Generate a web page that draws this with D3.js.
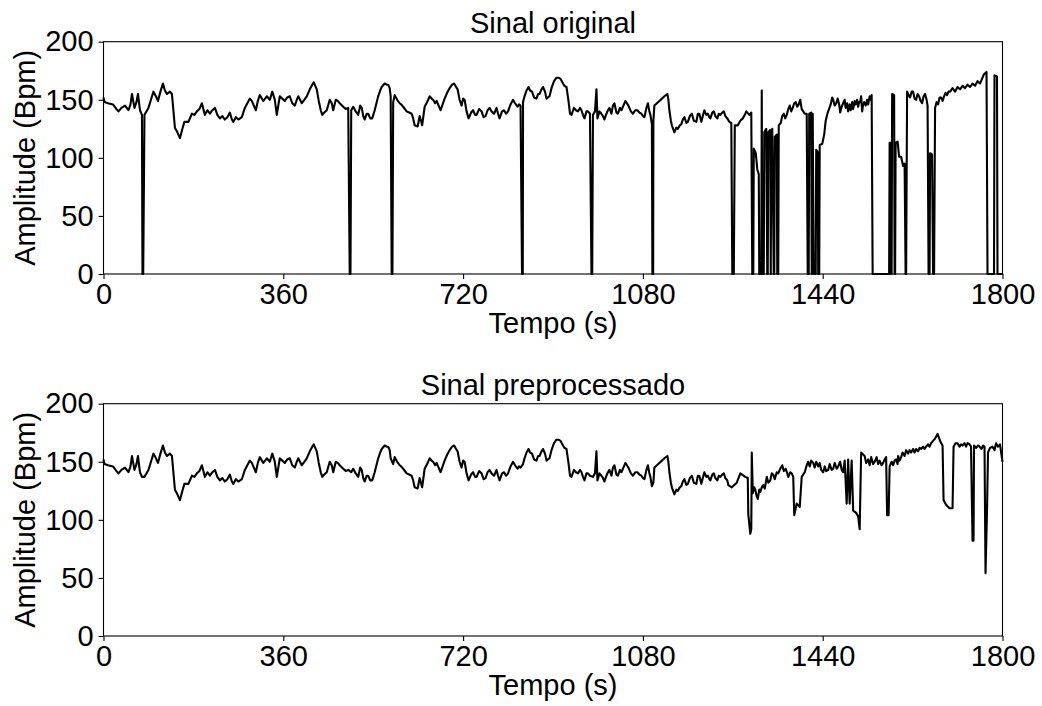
<!DOCTYPE html>
<html><head><meta charset="utf-8">
<script src="https://cdn.jsdelivr.net/npm/d3@7"></script>
<style>
body{margin:0;background:#fff}
text{font-family:"Liberation Sans",Arial,Helvetica,sans-serif;fill:#000}
</style>
</head><body>
<svg id="chart" width="1042" height="706"></svg>
<script>
// ---- data (time in s, amplitude in Bpm) ----
const xTicks = [0, 360, 720, 1080, 1440, 1800];
const yTicks = [0, 50, 100, 150, 200];
const titles = ["Sinal original", "Sinal preprocessado"];
const xLabel = "Tempo (s)";
const yLabel = "Amplitude (Bpm)";

// shared part of the heart-rate signal (0 .. ~1250 s)
const baseSignal = [
[0,152],[2,148],[9,147],[19,146],[26,142],[30,140],[36,143],[43,145],[50,141],[54,146],[57,155],[62,143],[66,148],[69,155],[73,141],[77,137],[82,137],[90,143],[95,150],[100,157],[105,153],[109,149],[114,157],[119,164],[123,158],[127,155],[133,157],[137,155],[143,126],[148,122],[153,117],[158,125],[162,131],[170,131],[177,138],[182,137],[187,140],[192,142],[197,147],[203,137],[208,141],[213,138],[218,141],[223,143],[228,137],[233,134],[238,136],[243,133],[248,135],[253,139],[257,133],[260,131],[265,135],[270,133],[277,135],[283,143],[288,147],[293,151],
[297,149],[305,141],[309,149],[313,154],[320,149],[327,153],[333,150],[338,157],[343,150],[347,137],[353,153],[358,151],[363,149],[368,152],[373,153],[378,147],[383,145],[387,150],[390,153],[397,147],[402,150],[407,153],[413,159],[418,163],[421,165],[424,162],[427,159],[431,149],[435,141],[438,137],[442,139],[447,141],[453,150],[457,147],[460,141],[465,150],[469,149],[473,147],[480,144],[485,142],[490,143],[496,141],[500,144],[505,140],[510,137],[514,145],[517,143],[520,136],[523,133],[527,138],[530,138],[534,134],[538,134],[543,141],[550,153],[554,158],[557,161],[563,164],[567,163],[570,163],[573,160],[575,153],[580,148],[583,154],[588,150],[593,147],
[596,146],[600,144],[607,140],[612,139],[617,138],[620,134],[623,128],[629,127],[633,136],[638,128],[643,144],[648,148],[653,153],[657,151],[660,150],[664,147],[667,149],[671,145],[675,141],[679,146],[683,151],[688,156],[693,160],[698,163],[702,164],[706,161],[709,159],[713,150],[717,145],[720,151],[723,150],[727,140],[731,134],[736,139],[740,141],[744,137],[747,137],[752,142],[757,140],[761,135],[765,136],[769,141],[773,143],[777,140],[782,138],[787,143],[790,138],[793,134],[798,140],[802,141],[806,138],[810,140],[815,146],[820,150],[824,147],[829,144],[832,146],[835,145],[840,148],[843,153],[847,158],[851,161],[854,158],[858,157],[862,152],[867,151],[870,155],[873,155],[877,159],[880,161],[884,157],[887,151],[893,153],
[897,160],[902,166],[907,169],[911,169],[915,168],[920,164],[923,162],[927,161],[929,155],[931,149],[934,138],[937,137],[942,143],[946,141],[950,140],[954,143],[957,141],[960,137],[963,134],[967,140],[970,140],[974,138],[980,137],[984,140],[987,159],[989,134],[993,140],[997,138],[1000,136],[1003,133],[1007,138],[1010,141],[1013,143],[1017,138],[1020,145],[1023,147],[1027,139],[1030,138],[1034,143],[1037,141],[1041,145],[1045,149],[1048,147],[1051,145],[1056,140],[1060,138],[1065,141],[1069,141],[1073,139],[1077,138],[1080,136],[1083,135],[1087,143],[1090,147],[1093,140],[1095,137],[1098,129],[1101,132],[1103,145],[1108,147],[1113,149],[1118,151],[1123,153],[1129,155],[1131,150],[1133,141],[1136,132],[1138,128],[1143,122],[1147,126],[1150,125],[1154,128],[1157,129],[1160,133],[1163,135],[1167,130],[1170,131],[1174,136],[1178,138],[1182,132],[1187,131],[1190,138],[1193,138],
[1197,131],[1200,136],[1203,141],[1207,137],[1210,138],[1213,135],[1215,134],[1219,139],[1222,140],[1225,136],[1229,134],[1232,138],[1235,137],[1239,139],[1242,140],[1245,136],[1249,134]
];

// instants where the original signal drops to zero (shared part)
const dropoutTimes = [78, 493, 577, 838, 977, 1099];

// end of the original signal
const originalTail = [
[1253,131],[1257,130],[1259,0],[1262,0],[1264,128],[1270,128],[1275,132],[1280,134],[1284,137],[1287,140],[1293,137],[1297,139],[1299,0],[1301,0],[1302,108],[1306,104],[1309,90],[1312,86],[1313,0],[1317,0],[1318,158],[1319,0],[1322,0],[1323,122],[1327,125],[1329,0],[1330,0],[1331,122],[1335,124],[1336,0],[1337,120],[1339,125],[1342,0],[1343,0],[1344,118],[1348,120],[1349,0],[1351,0],
[1352,128],[1356,130],[1359,136],[1362,138],[1365,134],[1368,137],[1371,142],[1374,145],[1377,140],[1380,143],[1383,147],[1386,148],[1389,144],[1392,146],[1395,150],[1398,142],[1401,140],[1404,138],[1408,138],[1410,0],[1412,0],[1413,138],[1417,139],[1418,0],[1420,138],[1422,0],[1426,0],[1427,107],[1430,105],[1431,0],[1433,0],[1434,111],[1439,112],[1443,120],[1446,132],[1450,139],
[1456,146],[1459,152],[1461,150],[1464,145],[1467,147],[1470,151],[1473,146],[1475,139],[1478,144],[1481,147],[1484,150],[1486,143],[1489,147],[1491,140],[1494,146],[1496,141],[1499,148],[1501,142],[1504,149],[1506,146],[1509,150],[1511,144],[1513,148],[1515,148],[1517,153],[1519,140],[1521,146],[1523,148],[1526,145],[1529,150],[1531,146],[1534,153],[1536,150],[1538,154],[1540,0],[1573,0],
[1574,113],[1576,113],[1577,0],[1578,0],[1579,155],[1583,154],[1584,0],[1585,0],[1586,113],[1590,114],[1593,101],[1597,101],[1601,93],[1604,95],[1606,0],[1607,0],
[1609,157],[1612,154],[1615,152],[1618,157],[1621,157],[1624,151],[1627,150],[1630,155],[1633,153],[1636,149],[1639,147],[1642,153],[1645,155],[1648,150],[1650,145],[1652,0],[1654,0],[1655,104],[1659,103],[1661,0],[1663,0],
[1665,143],[1668,148],[1671,146],[1674,152],[1677,152],[1680,149],[1683,153],[1686,156],[1689,154],[1692,157],[1695,157],[1700,160],[1705,157],[1710,161],[1715,159],[1720,162],[1725,160],[1730,163],[1735,161],[1740,164],[1745,162],[1750,166],[1755,164],[1760,169],[1763,172],[1768,174],[1770,0],[1783,0],[1784,171],[1789,170],[1790,0],[1800,0]
];

// end of the preprocessed signal
const preprocessedTail = [
[1251,130],[1258,128],[1268,132],[1275,140],[1285,137],[1290,136],[1291,105],[1295,88],[1297,92],[1298,158],
[1300,123],[1303,128],[1305,126],[1308,120],[1310,118],[1313,126],[1315,124],[1318,128],[1321,130],[1324,127],[1328,137],[1331,132],[1335,134],[1338,140],[1341,139],[1344,135],[1348,141],[1351,140],[1355,144],[1359,147],[1362,142],[1366,144],[1369,140],[1371,137],[1375,141],[1378,140],[1381,137],[1383,104],[1388,114],[1394,111],[1398,137],
[1404,141],[1408,147],[1411,150],[1414,146],[1417,151],[1421,149],[1424,145],[1427,150],[1431,146],[1434,149],[1437,143],[1441,141],[1444,146],[1447,142],[1451,143],[1454,148],[1458,143],[1461,144],[1464,149],[1468,144],[1471,146],[1475,150],[1478,143],[1481,141],[1484,151],[1488,114],[1491,152],[1494,114],[1498,151],[1501,108],[1507,106],[1511,103],[1514,92],[1517,158],
[1524,155],[1527,149],[1531,152],[1534,147],[1537,154],[1541,148],[1544,150],[1548,154],[1551,148],[1554,151],[1558,147],[1561,149],[1564,152],[1567,154],[1569,104],[1572,104],
[1574,146],[1578,150],[1581,147],[1584,151],[1587,152],[1590,148],[1591,155],[1594,151],[1597,154],[1600,158],[1604,155],[1607,160],[1611,157],[1614,160],[1617,158],[1621,161],[1624,158],[1627,161],[1631,159],[1634,162],[1637,161],[1641,163],[1644,161],[1647,163],[1651,165],[1654,163],[1657,166],[1661,168],[1665,170],[1670,174],[1676,167],[1680,164],[1682,117],[1687,113],[1694,110],[1700,110],
[1702,163],[1706,166],[1710,166],[1714,163],[1717,165],[1720,164],[1724,166],[1727,163],[1730,166],[1734,165],[1737,163],[1740,82],[1742,82],[1743,164],[1747,162],[1751,164],[1754,163],[1758,161],[1761,164],[1764,163],[1766,54],[1769,108],[1771,158],[1775,162],[1780,163],[1784,160],[1787,166],[1791,163],[1795,165],[1800,150]
];

// ---- assemble the two series ----
const dropoutPoints = dropoutTimes.flatMap(t => [[t, 0], [t + 1.5, 0]]);
const originalSignal = baseSignal.concat(dropoutPoints, originalTail).sort((a, b) => a[0] - b[0]);
const preprocessedSignal = baseSignal.concat(preprocessedTail).sort((a, b) => a[0] - b[0]);

// ---- drawing ----
const svg = d3.select("#chart");
const FS = 29;
const left = 103.5, right = 1002.5;
const panels = [
  {title: titles[0], top: 41.7, bottom: 274, data: originalSignal},
  {title: titles[1], top: 403.7, bottom: 636, data: preprocessedSignal}
];

panels.forEach(p => {
  const x = d3.scaleLinear().domain([0, 1800]).range([left, right]);
  const y = d3.scaleLinear().domain([0, 200]).range([p.bottom, p.top]);
  const g = svg.append("g");

  // line
  const line = d3.line().x(d => x(d[0])).y(d => y(d[1]));
  g.append("path").datum(p.data)
    .attr("d", line).attr("fill", "none").attr("stroke", "#000")
    .attr("stroke-width", 2.1).attr("stroke-linejoin", "round").attr("stroke-linecap", "butt");

  // x axis
  const xa = g.append("g").attr("transform", `translate(0,${p.bottom})`)
    .call(d3.axisBottom(x).tickValues(xTicks).tickFormat(d3.format("d")).tickSize(4.9).tickPadding(5).tickSizeOuter(0));
  xa.select(".domain").remove();
  xa.selectAll("line").attr("stroke", "#000").attr("stroke-width", 1.1);
  xa.selectAll("text").attr("font-size", FS).attr("font-family", '"Liberation Sans", Arial, sans-serif').attr("fill", "#000");

  // y axis
  const ya = g.append("g").attr("transform", `translate(${left},0)`)
    .call(d3.axisLeft(y).tickValues(yTicks).tickFormat(d3.format("d")).tickSize(4.9).tickPadding(5).tickSizeOuter(0));
  ya.select(".domain").remove();
  ya.selectAll("line").attr("stroke", "#000").attr("stroke-width", 1.1);
  ya.selectAll("text").attr("font-size", FS).attr("font-family", '"Liberation Sans", Arial, sans-serif').attr("fill", "#000");

  // frame
  g.append("rect").attr("x", left).attr("y", p.top)
    .attr("width", right - left).attr("height", p.bottom - p.top)
    .attr("fill", "none").attr("stroke", "#000").attr("stroke-width", 1.1);

  // title
  g.append("text").attr("x", (left + right) / 2).attr("y", p.top - 8.5)
    .attr("text-anchor", "middle").attr("font-size", FS).text(p.title);

  // x label
  g.append("text").attr("x", (left + right) / 2).attr("y", p.bottom + 59)
    .attr("text-anchor", "middle").attr("font-size", FS).text(xLabel);

  // y label
  g.append("text")
    .attr("transform", `translate(35,${(p.top + p.bottom) / 2}) rotate(-90)`)
    .attr("text-anchor", "middle").attr("font-size", FS).text(yLabel);
});
</script>
</body></html>
